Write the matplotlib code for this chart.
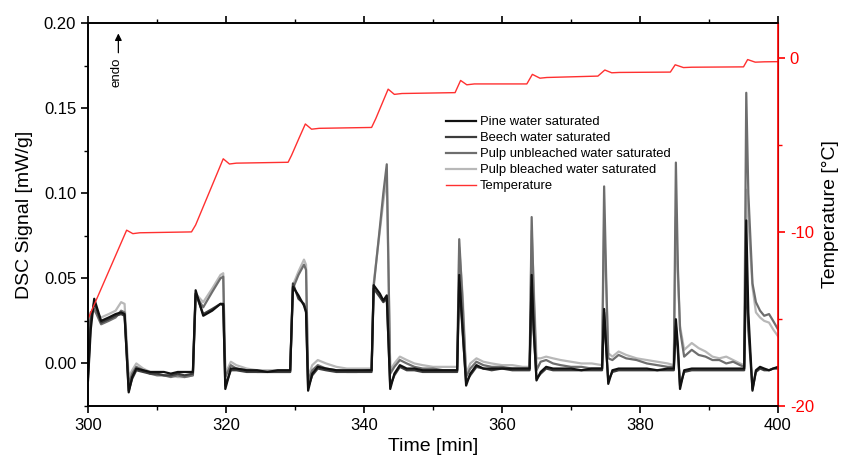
import matplotlib
matplotlib.use('Agg')
import matplotlib.pyplot as plt
from matplotlib.ticker import MultipleLocator

plt.rcParams['font.family'] = ['Liberation Sans', 'DejaVu Sans']
plt.rcParams['axes.unicode_minus'] = False

# time axis of the DSC traces [min]
time = [300.0, 300.4, 300.9, 301.9, 303, 304, 304.8, 305.3, 305.9, 306.4, 307, 308, 309, 310, 311, 312, 313, 314, 315.2,
        315.6, 316.7, 318, 319.2, 319.6, 319.9, 320.7, 321.5, 323, 324.5, 326, 327.5, 329.3,
        329.7, 330.5, 331.3, 331.6, 331.9, 332.5, 333.3, 334.5, 336, 337.5, 339, 340.5, 341.1,
        341.4, 342.3, 342.8, 343.3, 343.8, 344.4, 345.2, 346.2, 347.3, 348.5, 350, 351.5, 353.5,
        353.8, 354.3, 354.8, 355.4, 356.3, 357.3, 358.5, 360, 361.5, 363, 364.0,
        364.3, 364.6, 365.0, 365.6, 366.4, 367.4, 368.5, 370, 371.5, 373, 374.5,
        374.8, 375.1, 375.4, 376.0, 376.9, 378, 379.5, 381, 382.5, 384, 384.9,
        385.2, 385.5, 385.8, 386.4, 387.5, 388.5, 389.5, 390.5, 391.5, 392.5, 393.5, 394.5, 395.1,
        395.4, 395.7, 396.3, 396.8, 397.4, 398.0, 398.7, 399.3, 400.0]

pine = [-0.010, 0.020, 0.038, 0.025, 0.027, 0.029, 0.030, 0.029, -0.017, -0.008, -0.003, -0.004, -0.005, -0.005, -0.005, -0.006, -0.005, -0.005, -0.005,
        0.043, 0.028, 0.031, 0.035, 0.035, -0.015, -0.003, -0.003, -0.004, -0.004, -0.005, -0.004, -0.004,
        0.045, 0.040, 0.034, 0.030, -0.016, -0.006, -0.002, -0.003, -0.004, -0.004, -0.004, -0.004, -0.004,
        0.046, 0.041, 0.037, 0.040, -0.015, -0.006, -0.001, -0.003, -0.003, -0.004, -0.004, -0.004, -0.004,
        0.052, 0.020, -0.013, -0.006, -0.001, -0.003, -0.003, -0.003, -0.003, -0.003, -0.003,
        0.052, 0.020, -0.010, -0.005, -0.002, -0.003, -0.003, -0.003, -0.004, -0.003, -0.003,
        0.032, 0.010, -0.012, -0.004, -0.003, -0.003, -0.003, -0.003, -0.004, -0.003, -0.003,
        0.026, 0.010, -0.015, -0.004, -0.003, -0.003, -0.003, -0.003, -0.003, -0.003, -0.003, -0.003, -0.003,
        0.084, 0.030, -0.016, -0.004, -0.002, -0.003, -0.004, -0.003, -0.002]

beech = [-0.008, 0.025, 0.036, 0.024, 0.026, 0.028, 0.029, 0.028, -0.016, -0.009, -0.004, -0.005, -0.006, -0.006, -0.007, -0.007, -0.006, -0.007, -0.006,
         0.041, 0.029, 0.032, 0.035, 0.034, -0.013, -0.004, -0.004, -0.005, -0.005, -0.005, -0.005, -0.005,
         0.047, 0.038, 0.035, 0.031, -0.014, -0.007, -0.003, -0.004, -0.005, -0.005, -0.005, -0.005, -0.005,
         0.044, 0.039, 0.036, 0.038, -0.013, -0.007, -0.002, -0.004, -0.004, -0.005, -0.005, -0.005, -0.005,
         0.048, 0.018, -0.011, -0.007, -0.002, -0.003, -0.004, -0.003, -0.004, -0.004, -0.004,
         0.045, 0.018, -0.009, -0.006, -0.003, -0.004, -0.004, -0.004, -0.004, -0.004, -0.004,
         0.030, 0.008, -0.010, -0.005, -0.004, -0.004, -0.004, -0.004, -0.004, -0.004, -0.004,
         0.022, 0.006, -0.013, -0.005, -0.004, -0.004, -0.004, -0.004, -0.004, -0.004, -0.004, -0.004, -0.004,
         0.058, 0.020, -0.015, -0.005, -0.003, -0.004, -0.004, -0.003, -0.003]

pulp_unbleached = [-0.006, 0.030, 0.032, 0.023, 0.025, 0.027, 0.031, 0.030, -0.012, -0.006, -0.002, -0.004, -0.006, -0.007, -0.007, -0.008, -0.007, -0.008, -0.007,
                   0.040, 0.033, 0.042, 0.050, 0.051, -0.008, -0.001, -0.003, -0.004, -0.005, -0.005, -0.005, -0.005,
                   0.044, 0.052, 0.058, 0.055, -0.010, -0.004, -0.001, -0.003, -0.004, -0.005, -0.005, -0.004, -0.004,
                   0.045, 0.080, 0.100, 0.117, -0.006, -0.002, 0.002, 0.000, -0.002, -0.003, -0.003, -0.004, -0.004,
                   0.073, 0.035, -0.008, -0.003, 0.001, -0.001, -0.002, -0.002, -0.003, -0.003, -0.003,
                   0.086, 0.040, -0.004, 0.001, 0.002, 0.000, -0.001, -0.002, -0.002, -0.003, -0.003,
                   0.104, 0.050, 0.003, 0.002, 0.005, 0.003, 0.002, 0.000, -0.001, -0.002, -0.002,
                   0.118, 0.055, 0.020, 0.004, 0.008, 0.005, 0.004, 0.002, 0.002, 0.000, 0.001, -0.001, -0.002,
                   0.159, 0.100, 0.047, 0.036, 0.031, 0.028, 0.029, 0.025, 0.020]

pulp_bleached = [-0.004, 0.030, 0.031, 0.027, 0.029, 0.031, 0.036, 0.035, -0.008, -0.004, 0.000, -0.003, -0.005, -0.006, -0.007, -0.007, -0.008, -0.008, -0.007,
                 0.041, 0.036, 0.044, 0.052, 0.053, -0.006, 0.001, -0.001, -0.003, -0.004, -0.004, -0.004, -0.004,
                 0.046, 0.054, 0.061, 0.058, -0.008, -0.001, 0.002, 0.000, -0.002, -0.003, -0.003, -0.003, -0.003,
                 0.047, 0.078, 0.095, 0.109, -0.004, 0.000, 0.004, 0.002, 0.000, -0.001, -0.002, -0.002, -0.002,
                 0.068, 0.040, -0.006, 0.000, 0.003, 0.001, 0.000, -0.001, -0.001, -0.002, -0.002,
                 0.078, 0.045, 0.003, 0.003, 0.004, 0.003, 0.002, 0.001, 0.000, 0.000, -0.001,
                 0.082, 0.045, 0.006, 0.004, 0.007, 0.005, 0.003, 0.002, 0.001, 0.000, -0.001,
                 0.086, 0.050, 0.022, 0.008, 0.012, 0.009, 0.007, 0.004, 0.003, 0.004, 0.002, 0.000, -0.001,
                 0.102, 0.085, 0.045, 0.030, 0.027, 0.025, 0.024, 0.020, 0.016]

# sample temperature
temp_time = [300.0, 305.6, 306.5, 307.5, 315.0, 315.6, 319.6, 320.5, 321.5, 329.0, 329.5, 330.6, 331.5, 332.4, 333.5,
             341.1, 341.7, 343.5, 344.4, 345.5, 353.2, 354.0, 354.9, 356.0, 363.6, 364.4, 365.5, 366.5,
             373.9, 374.9, 375.9, 377.0, 384.4, 385.1, 386.3, 387.5, 395.0, 395.6, 396.7, 398.0, 400.0]
temp = [-15.0, -9.9, -10.1, -10.05, -10.0, -9.6, -5.8, -6.1, -6.05, -6.0, -5.6, -4.6, -3.8, -4.1, -4.05,
        -4.0, -3.5, -1.8, -2.1, -2.05, -2.0, -1.3, -1.55, -1.5, -1.5, -0.95, -1.17, -1.13,
        -1.05, -0.7, -0.86, -0.84, -0.82, -0.4, -0.56, -0.54, -0.52, -0.1, -0.25, -0.23, -0.22]

fig = plt.figure(figsize=(8.45, 4.7), dpi=100)
ax = fig.add_axes([88/845, 1 - 406/470, 690/845, 383/470])
ax2 = ax.twinx()

l4, = ax.plot(time, pulp_bleached, color='#b8b8b8', lw=1.6, label='Pulp bleached water saturated')
l3, = ax.plot(time, pulp_unbleached, color='#6e6e6e', lw=1.6, label='Pulp unbleached water saturated')
l2, = ax.plot(time, beech, color='#3c3c3c', lw=1.6, label='Beech water saturated')
l1, = ax.plot(time, pine, color='#111111', lw=1.6, label='Pine water saturated')
lt, = ax2.plot(temp_time, temp, color='#ff3030', lw=1.0, label='Temperature')

ax.set_xlim(300, 400)
ax.set_ylim(-0.025, 0.2)
ax2.set_ylim(-20, 2)

ax.xaxis.set_major_locator(MultipleLocator(20))
ax.xaxis.set_minor_locator(MultipleLocator(10))
ax.yaxis.set_major_locator(MultipleLocator(0.05))
ax.yaxis.set_minor_locator(MultipleLocator(0.025))
ax.yaxis.set_major_formatter(plt.FormatStrFormatter('%.2f'))
ax2.yaxis.set_major_locator(MultipleLocator(10))
ax2.yaxis.set_minor_locator(MultipleLocator(5))

ax.tick_params(axis='both', which='major', direction='out', length=5, width=1.2, labelsize=12)
ax.tick_params(axis='both', which='minor', direction='out', length=3, width=1.0)
ax.tick_params(axis='x', top=True, which='both')
ax2.tick_params(axis='y', which='major', direction='out', length=5, width=1.2, labelsize=12,
                colors='red')
ax2.tick_params(axis='y', which='minor', direction='out', length=3, width=1.0, colors='red')

for s in ['left', 'bottom', 'top']:
    ax.spines[s].set_linewidth(1.2)
    ax2.spines[s].set_linewidth(1.2)
ax2.spines['right'].set_color('red')
ax2.spines['right'].set_linewidth(1.2)

ax.set_xlabel('Time [min]', fontsize=14, labelpad=4)
ax.set_ylabel('DSC Signal [mW/g]', fontsize=14, labelpad=8)
ax2.set_ylabel('Temperature [°C]', fontsize=14, labelpad=6)

ax2.annotate('', xy=(0.044, 0.98), xytext=(0.044, 0.915), xycoords='axes fraction',
             arrowprops=dict(arrowstyle='-|>', color='black', lw=0.9, mutation_scale=10))
ax2.text(0.042, 0.91, 'endo', rotation=90, fontsize=9.5, ha='center', va='top',
         transform=ax2.transAxes)

ax2.legend([l1, l2, l3, l4, lt], [h.get_label() for h in [l1, l2, l3, l4, lt]],
           loc='upper left', bbox_to_anchor=(0.519, 0.757), frameon=False, fontsize=9.4,
           handlelength=2.3, handletextpad=0.3, labelspacing=0.3, borderpad=0, borderaxespad=0)

fig.savefig('out.png', dpi=100)
